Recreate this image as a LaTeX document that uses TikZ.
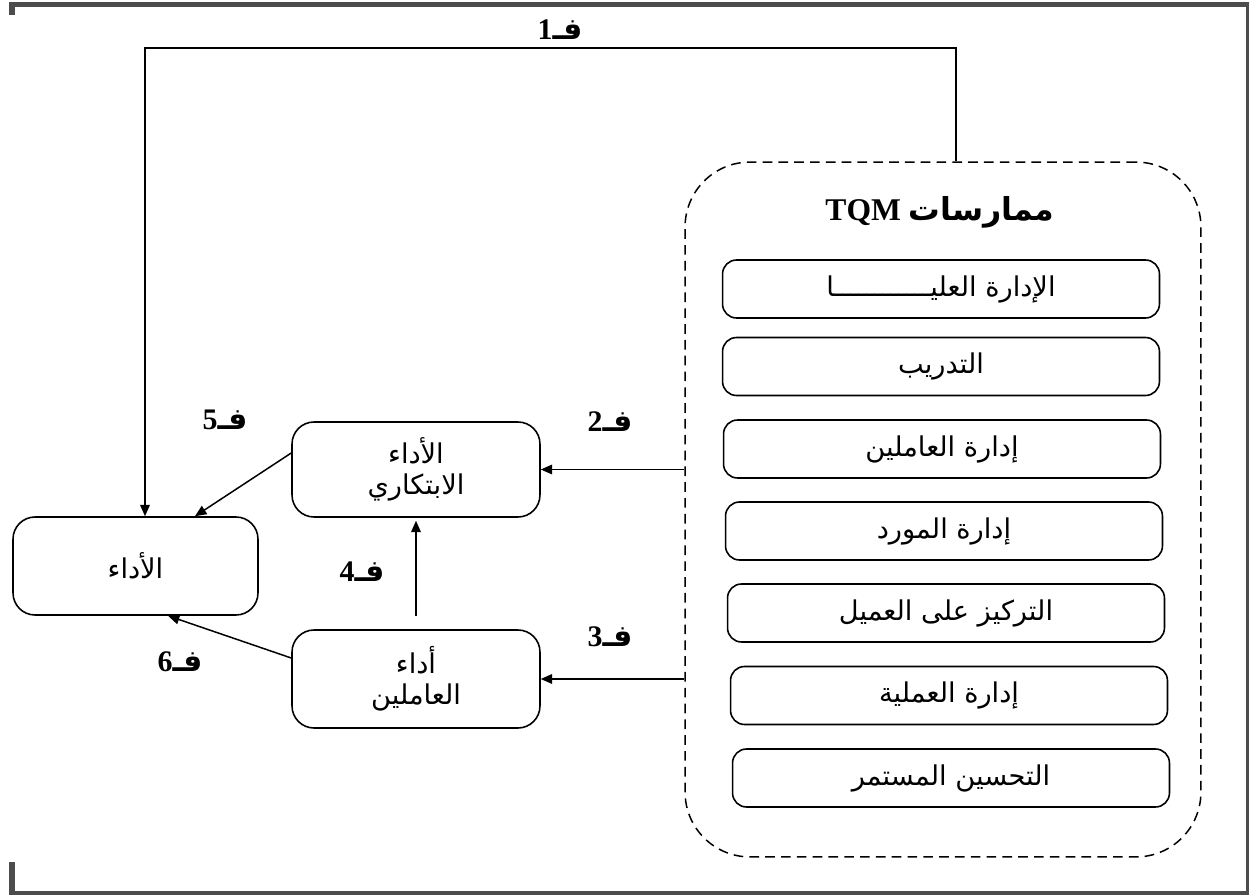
\documentclass[tikz,border=0pt]{standalone}
\usepackage{fontspec}
\setmainfont{Liberation Serif}
\newfontfamily\arabicfont[Script=Arabic]{DejaVu Sans}
\TeXXeTstate=1
\usetikzlibrary{arrows.meta}
\newcommand\hypo[1]{\textbf{#1}{\arabicfont\bfseries\beginR فـ\endR}}
\tikzset{
  practice/.style={draw, line width=0.9pt, rounded corners=0.28cm, minimum width=8.74cm, minimum height=1.16cm, font=\arabicfont\fontsize{15.5}{18}\selectfont},
  outcome/.style={draw, line width=0.9pt, rounded corners=0.44cm, minimum width=4.96cm, minimum height=1.9cm, align=center, font=\arabicfont\fontsize{15.5}{17.5}\selectfont},
  hyp/.style={font=\fontsize{17}{19}\selectfont},
  frameline/.style={fill=black!70, draw=none}
}
\begin{document}
\begin{tikzpicture}[x=0.02cm, y=-0.02cm, >={Triangle[length=6.5pt,width=5.5pt]}, line width=0.85pt]
                    \useasboundingbox (0,0) rectangle (1249,895);
                    % page frame
                    \fill[frameline] (9,2) rectangle (1249,7);
                    \fill[frameline] (1246,2) rectangle (1249,895);
                    \fill[frameline] (9,891) rectangle (1249,895);
                    \fill[frameline] (9,2) rectangle (15,15);
                    \fill[frameline] (9,862) rectangle (15,895);
                    % TQM practices
                    \node[draw, dash pattern=on 5.5pt off 3.5pt, line width=0.85pt, rounded corners=1.3cm, minimum width=10.32cm, minimum height=13.9cm] (tqm) at (943,509.5) {};
                    \node[font=\fontsize{18}{20}\selectfont\bfseries] (title) at (940,212) {TQM {\arabicfont\bfseries\beginR ممارسات\endR}};
                    \node[practice] (p1) at (941,289) {\beginR الإدارة العليــــــــــــا\endR};
                    \node[practice] (p2) at (941,366.5) {\beginR التدريب\endR};
                    \node[practice] (p3) at (942,449) {\beginR إدارة العاملين\endR};
                    \node[practice] (p4) at (944,531) {\beginR إدارة المورد\endR};
                    \node[practice] (p5) at (946,613) {\beginR التركيز على العميل\endR};
                    \node[practice] (p6) at (949,695.5) {\beginR إدارة العملية\endR};
                    \node[practice] (p7) at (951,778) {\beginR التحسين المستمر\endR};
                    % outcomes
                    \node[outcome] (innov) at (416,469.5) {\beginR الأداء\endR\\\beginR الابتكاري\endR};
                    \node[outcome, minimum height=1.96cm] (staff) at (416,679) {\beginR أداء\endR\\\beginR العاملين\endR};
                    \node[outcome, minimum width=4.9cm, minimum height=1.96cm] (perf) at (135.5,566) {\beginR الأداء\endR};
                    % hypotheses
                    \coordinate (fb) at (145,48);
                    \draw[->] ([xshift=0.26cm]tqm.north) |- (fb) -- (fb |- perf.north);
                    \draw[->] (innov.east -| tqm.west) -- (innov.east);
                    \draw[->] (staff.east -| tqm.west) -- (staff.east);
                    \draw[->, shorten <=0.26cm, shorten >=0.06cm] (staff.north) -- (innov.south);
                    \draw[->] ([yshift=0.33cm]innov.west) -- ([xshift=1.19cm]perf.north);
                    \draw[->] ([yshift=0.42cm]staff.west) -- ([xshift=0.65cm]perf.south);
                    \node[hyp] (h1) at (560,30) {\hypo{1}};
                    \node[hyp] (h2) at (610,422) {\hypo{2}};
                    \node[hyp] (h3) at (610,637) {\hypo{3}};
                    \node[hyp] (h4) at (362,572) {\hypo{4}};
                    \node[hyp] (h5) at (225,420) {\hypo{5}};
                    \node[hyp] (h6) at (180,662) {\hypo{6}};
\end{tikzpicture}
\end{document}
